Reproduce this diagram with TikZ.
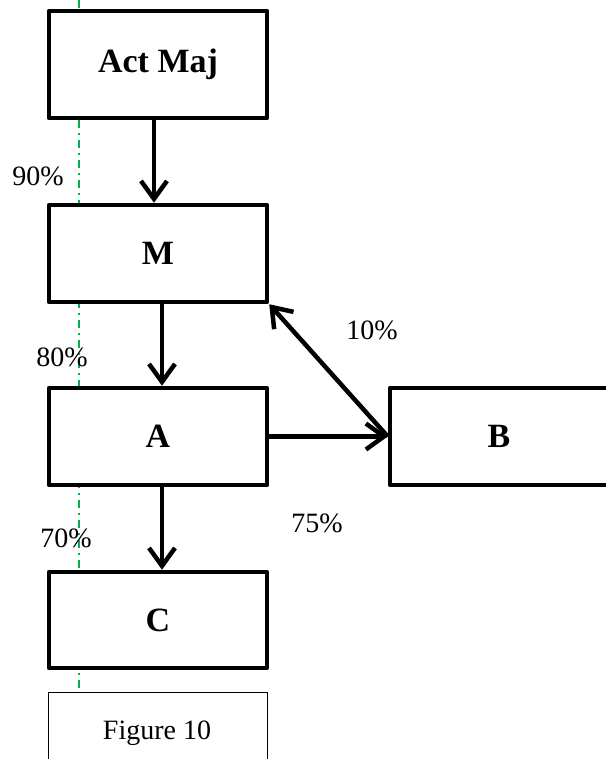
\documentclass[tikz,border=0pt]{standalone}
\usepackage{fontspec}
\setmainfont{Liberation Serif}
\usetikzlibrary{arrows.meta}
\definecolor{guidegreen}{RGB}{0,176,80}
\tikzset{
  box/.style={draw=black, fill=white, line width=4.5pt, line join=round, minimum width=218pt, inner sep=0pt, font=\fontsize{34}{36}\selectfont\bfseries},
  flow/.style={line width=4.5pt, -{Straight Barb[length=18pt,width=26pt,line width=4.5pt]}},
  pct/.style={font=\fontsize{28}{30}\selectfont, inner sep=0pt},
  guide/.style={draw=guidegreen, line width=1.6pt, dash pattern=on 8pt off 5pt on 2pt off 5pt}
}
\begin{document}
\begin{tikzpicture}[x=1pt,y=-1pt]
\useasboundingbox (0,0) rectangle (605,759);
\coordinate (gtop) at (79,0);
\coordinate (gbot) at (79,692);
\draw[guide] (gtop) -- (gbot);
\node[box, minimum height=107pt] (actmaj) at (158,64.5) {Act Maj};
\node[box, minimum height=97pt] (M) at (158,253.5) {M};
\node[box, minimum height=97pt] (A) at (158,436.5) {A};
\node[box, minimum height=97pt] (B) at (499,436.5) {B};
\node[box, minimum height=96pt] (C) at (158,620) {C};
\node[draw=black, fill=white, line width=1pt, minimum width=219pt, minimum height=98pt, inner sep=0pt, anchor=north west] (figbox) at (48,692) {};
\node[font=\fontsize{28}{30}\selectfont, inner sep=0pt] (figtxt) at (157,733) {Figure 10};
\draw[flow] ([xshift=-4pt]actmaj.south) -- ([xshift=-4pt]M.north);
\draw[flow] ([xshift=4pt]M.south) -- ([xshift=4pt]A.north);
\draw[flow] ([xshift=4pt]A.south) -- ([xshift=4pt]C.north);
\draw[flow] (A.east) -- (B.west);
\draw[flow] (B.west) -- (M.south east);
\node[pct] (p90) at (38,176) {90\%};
\node[pct] (p80) at (62,357) {80\%};
\node[pct] (p70) at (66,538) {70\%};
\node[pct] (p10) at (372,330) {10\%};
\node[pct] (p75) at (317,523) {75\%};
\end{tikzpicture}
\end{document}
